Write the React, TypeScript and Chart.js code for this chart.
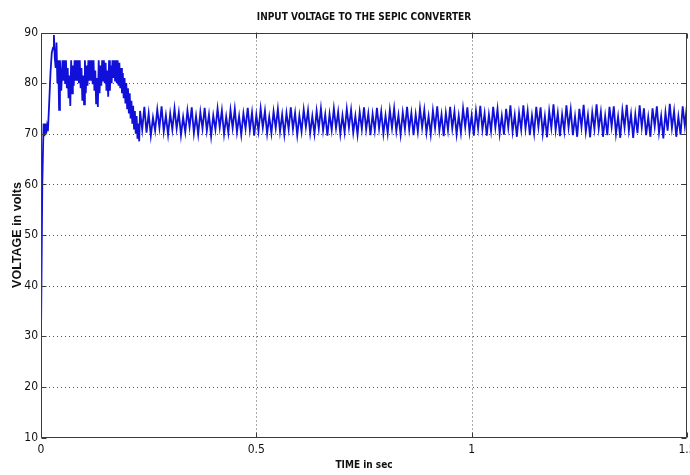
import { useEffect, useRef } from "react";
import { Chart, registerables } from "chart.js";

Chart.register(...registerables);

const TITLE = "INPUT VOLTAGE TO THE SEPIC CONVERTER";
const X_LABEL = "TIME in sec";
const Y_LABEL = "VOLTAGE in volts";
const X_TICKS = [0, 0.5, 1, 1.5];
const Y_TICKS = [10, 20, 30, 40, 50, 60, 70, 80, 90];

// start-up (explicit samples)
const START_TIMES = [0, 0.003, 0.006, 0.008, 0.010, 0.012, 0.014, 0.016, 0.019, 0.022, 0.025, 0.028, 0.030, 0.032, 0.034, 0.036, 0.038, 0.040, 0.042, 0.044, 0.047];
const START_VOLTS = [30, 60, 72, 69.5, 72, 70, 71.5, 70.5, 76, 82, 86, 87, 89.5, 85, 83, 88, 80, 84.5, 74.7, 84.5, 78.5];

// clipped transient, samples every 2 ms from 0.05 s
const TRANSIENT_T0 = 0.05;
const TRANSIENT_DT = 0.002;
const TRANSIENT_VOLTS = [
  84.5, 80.5, 84.5, 80.0, 84.5, 79.0, 83.0, 77.0, 81.5, 75.5,
  84.5, 78.0, 83.5, 79.5, 84.5, 80.5, 84.5, 80.5, 84.5, 80.0,
  84.5, 79.0, 83.0, 76.5, 81.5, 75.8, 84.5, 78.0, 83.5, 79.5,
  84.5, 80.5, 84.5, 80.5, 84.5, 79.8, 84.5, 78.5, 82.5, 76.0,
  81.0, 75.3, 84.5, 78.0, 83.5, 79.5, 84.5, 80.5, 84.5, 80.0,
  84.0, 78.5, 82.5, 77.3, 84.5, 78.5, 83.5, 80.0, 84.5, 81.0,
  84.5, 80.5, 84.5, 80.0, 84.5, 79.5, 84.0, 79.0, 83.0, 78.0,
  82.0, 77.0, 81.0, 76.0, 80.0, 75.0, 79.0, 74.0, 78.0, 73.0,
  76.5, 72.0, 75.5, 71.0, 74.5, 70.0, 73.5, 69.0, 72.0, 68.5,
];

// steady state ripple, samples every 5 ms from 0.23 s
const STEADY_T0 = 0.23;
const STEADY_DT = 0.005;
const STEADY_VOLTS = [
  74.5, 70.8, 75.3, 70.2, 74.0, 69.6, 73.2, 70.6, 74.8, 71.2, 75.4, 70.4, 73.6, 69.8,
  74.0, 70.8, 75.0, 71.0, 74.2, 69.7, 73.3, 70.3, 74.6, 71.3, 75.2, 70.1, 73.5, 69.9,
  74.3, 71.0, 75.1, 70.6, 73.8, 69.5, 73.6, 70.8, 75.0, 71.2, 74.6, 69.9, 73.4, 70.2,
  74.7, 71.1, 74.9, 70.3, 73.5, 69.8, 74.0, 71.0, 75.1, 70.7, 74.2, 69.6, 73.7, 70.5,
  75.0, 71.2, 74.5, 70.0, 73.4, 70.1, 74.4, 71.1, 74.9, 70.4, 73.8, 69.8, 74.1, 70.9,
  75.2, 70.9, 74.1, 69.7, 73.6, 70.4, 74.8, 71.3, 74.6, 70.1, 73.5, 70.0, 74.5, 71.0,
  75.0, 70.6, 73.8, 69.6, 73.9, 70.7, 75.0, 71.1, 74.3, 69.9, 73.6, 70.3, 74.9, 71.2,
  74.7, 70.2, 73.5, 69.8, 74.3, 70.9, 75.2, 70.8, 74.0, 69.7, 73.9, 70.6, 75.1, 71.0,
  74.4, 70.0, 73.6, 70.1, 74.7, 71.1, 75.0, 70.5, 73.7, 69.8, 74.2, 70.9, 75.3, 70.8,
  74.1, 69.7, 73.8, 70.4, 75.0, 71.2, 74.7, 70.2, 73.5, 69.9, 74.6, 71.1, 75.4, 70.6,
  73.8, 69.5, 74.1, 70.7, 75.3, 71.0, 74.4, 69.9, 73.6, 70.2, 75.0, 71.3, 75.2, 70.3,
  73.6, 69.6, 74.5, 71.0, 75.5, 70.8, 74.0, 69.6, 73.8, 70.5, 75.3, 71.2, 74.9, 70.0,
  73.5, 69.8, 74.9, 71.2, 75.6, 70.4, 73.7, 69.4, 74.1, 70.8, 75.6, 71.0, 74.5, 69.7,
  73.6, 70.1, 75.3, 71.3, 75.2, 70.0, 73.5, 69.3, 74.5, 71.1, 75.8, 70.7, 74.1, 69.5,
  73.8, 70.5, 75.6, 71.2, 74.8, 69.7, 73.4, 69.4, 74.9, 71.3, 75.7, 70.4, 73.7, 69.3,
  74.2, 70.9, 75.8, 71.0, 74.3, 69.4, 73.5, 69.7, 75.3, 71.4, 75.4, 70.0, 73.4, 69.2,
  74.6, 71.2, 75.7, 70.6, 73.9, 69.2, 73.8, 70.1, 75.6, 71.3, 75.0, 69.7, 73.3, 69.4,
  75.0, 71.4, 75.4, 70.2, 73.5, 69.1, 74.2, 70.6, 75.9, 71.1, 74.5, 69.4, 73.4, 69.8,
  75.4, 71.5, 75.8,
];

const NARROW = "'Liberation Sans Narrow', 'DejaVu Sans Condensed', 'Liberation Sans', sans-serif";
const TEXT = "#111";
const LINE = "#1010d8";
const FRAME = "#3a3a3a";

function buildPoints() {
  const pts: { x: number; y: number }[] = [];
  START_TIMES.forEach((t, i) => pts.push({ x: t, y: START_VOLTS[i] }));
  TRANSIENT_VOLTS.forEach((v, i) => pts.push({ x: TRANSIENT_T0 + i * TRANSIENT_DT, y: v }));
  STEADY_VOLTS.forEach((v, i) => pts.push({ x: STEADY_T0 + i * STEADY_DT, y: v }));
  return pts;
}

const framePlugin = {
  id: "matlabFrame",
  beforeDatasetsDraw(chart: any) {
    const { ctx, chartArea: a, scales } = chart;
    const x = scales.x;
    const y = scales.y;
    ctx.save();
    ctx.strokeStyle = "#555";
    ctx.lineWidth = 1;
    ctx.setLineDash([1, 3]);
    ctx.beginPath();
    X_TICKS.forEach((v) => {
      const px = Math.round(x.getPixelForValue(v)) + 0.5;
      if (px > a.left + 2 && px < a.right - 2) {
        ctx.moveTo(px, a.top);
        ctx.lineTo(px, a.bottom);
      }
    });
    Y_TICKS.forEach((v) => {
      const py = Math.round(y.getPixelForValue(v)) + 0.5;
      if (py > a.top + 2 && py < a.bottom - 2) {
        ctx.moveTo(a.left, py);
        ctx.lineTo(a.right, py);
      }
    });
    ctx.stroke();
    ctx.restore();
  },
  afterDatasetsDraw(chart: any) {
    const { ctx, chartArea: a, scales } = chart;
    const x = scales.x;
    const y = scales.y;
    const L = Math.round(a.left) + 0.5;
    const R = Math.round(a.right) - 0.5;
    const T = Math.round(a.top) + 0.5;
    const B = Math.round(a.bottom) - 0.5;
    ctx.save();
    ctx.strokeStyle = FRAME;
    ctx.lineWidth = 1;
    ctx.setLineDash([]);
    ctx.beginPath();
    ctx.rect(L, T, R - L, B - T);
    const tick = 5;
    X_TICKS.forEach((v) => {
      const px = Math.round(x.getPixelForValue(v)) + 0.5;
      ctx.moveTo(px, B);
      ctx.lineTo(px, B - tick);
      ctx.moveTo(px, T);
      ctx.lineTo(px, T + tick);
    });
    Y_TICKS.forEach((v) => {
      const py = Math.round(y.getPixelForValue(v)) + 0.5;
      ctx.moveTo(L, py);
      ctx.lineTo(L + tick, py);
      ctx.moveTo(R, py);
      ctx.lineTo(R - tick, py);
    });
    ctx.stroke();
    ctx.restore();
  },
};

export default function App() {
  const ref = useRef<HTMLCanvasElement | null>(null);

  useEffect(() => {
    if (!ref.current) return;
    const chart = new Chart(ref.current, {
      type: "line",
      data: {
        datasets: [
          {
            data: buildPoints(),
            borderColor: LINE,
            borderWidth: 1.8,
            pointRadius: 0,
            tension: 0,
            fill: false,
          },
        ],
      },
      options: {
        animation: false,
        responsive: true,
        maintainAspectRatio: false,
        layout: { padding: { left: 0, right: 3, top: 0, bottom: 0 } },
        plugins: {
          legend: { display: false },
          tooltip: { enabled: false },
          title: {
            display: true,
            fullSize: false,
            text: TITLE,
            color: TEXT,
            font: { family: NARROW, size: 10, weight: "bold", lineHeight: 1 },
            padding: { top: 12, bottom: 10.5 },
          },
        },
        scales: {
          x: {
            type: "linear",
            min: 0,
            max: 1.5,
            grid: { display: false, drawTicks: false },
            border: { display: false },
            afterBuildTicks: (s: any) => {
              s.ticks = X_TICKS.map((v) => ({ value: v }));
            },
            afterFit: (s: any) => {
              s.height = 37.5;
              s.paddingLeft = 0;
              s.paddingRight = 0;
            },
            ticks: {
              autoSkip: false,
              maxRotation: 0,
              padding: 5,
              color: TEXT,
              font: { family: NARROW, size: 12 },
              callback: (v: any) => String(v),
            },
            title: {
              display: true,
              text: X_LABEL,
              color: TEXT,
              font: { family: NARROW, size: 10, weight: "bold", lineHeight: 1.2 },
              padding: { top: 0, bottom: 4 },
            },
          },
          y: {
            type: "linear",
            min: 10,
            max: 90,
            grid: { display: false, drawTicks: false },
            border: { display: false },
            afterBuildTicks: (s: any) => {
              s.ticks = Y_TICKS.map((v) => ({ value: v }));
            },
            afterFit: (s: any) => {
              s.width = 41;
              s.paddingTop = 0;
              s.paddingBottom = 0;
            },
            ticks: {
              autoSkip: false,
              padding: 3,
              color: TEXT,
              font: { family: NARROW, size: 12 },
            },
            title: {
              display: true,
              text: Y_LABEL,
              color: TEXT,
              font: { family: "'Liberation Sans', Arial, sans-serif", size: 12.5, weight: "bold", lineHeight: 1.2 },
              padding: { top: 10.5, bottom: 0 },
            },
          },
        },
      },
      plugins: [framePlugin],
    });
    return () => chart.destroy();
  }, []);

  return (
    <div style={{ position: "fixed", left: 0, top: 0, width: 690, height: 475, background: "#fff" }}>
      <canvas ref={ref} />
    </div>
  );
}
